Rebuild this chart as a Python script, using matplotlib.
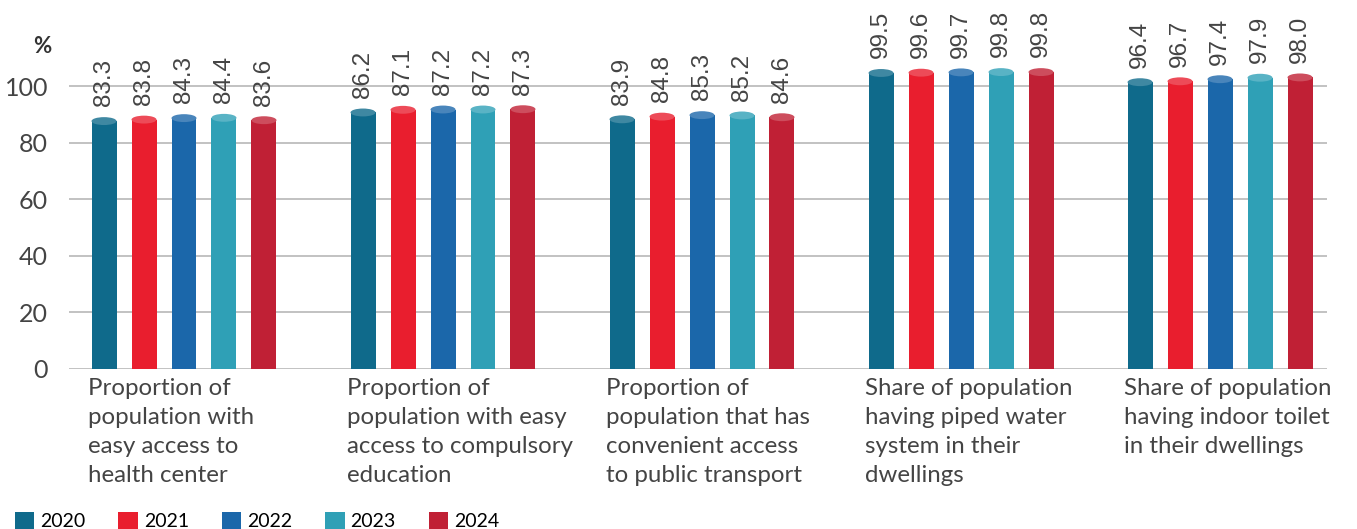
import matplotlib.pyplot as plt
from matplotlib.patches import Ellipse, Patch
from matplotlib.colors import to_rgb

years = ["2020", "2021", "2022", "2023", "2024"]
categories = [
    "Proportion of\npopulation with\neasy access to\nhealth center",
    "Proportion of\npopulation with easy\naccess to compulsory\neducation",
    "Proportion of\npopulation that has\nconvenient access\nto public transport",
    "Share of population\nhaving piped water\nsystem in their\ndwellings",
    "Share of population\nhaving indoor toilet\nin their dwellings",
]
v2020 = [83.3, 86.2, 83.9, 99.5, 96.4]
v2021 = [83.8, 87.1, 84.8, 99.6, 96.7]
v2022 = [84.3, 87.2, 85.3, 99.7, 97.4]
v2023 = [84.4, 87.2, 85.2, 99.8, 97.9]
v2024 = [83.6, 87.3, 84.6, 99.8, 98.0]
series = [v2020, v2021, v2022, v2023, v2024]
colors = ["#0f6a8b", "#e91e2e", "#1b67aa", "#2fa0b6", "#c02035"]
yticks = [0, 20, 40, 60, 80, 100]

# the source drawing stretches bars a little against its gridlines
k = 1.053

def lighter(c, f=0.2):
    r, g, b = to_rgb(c)
    return (r + (1 - r) * f, g + (1 - g) * f, b + (1 - b) * f)

fig = plt.figure(figsize=(13.57, 5.29), dpi=100)
ax = fig.add_axes([69 / 1357, (529 - 368.5) / 529, 1258 / 1357, 358.5 / 529])
ax.set_xlim(-0.444, 4.413)
ax.set_ylim(0, 127.1)

step = 0.1544
w = 0.0965
eh = 2.8
for j, vals in enumerate(series):
    for i, v in enumerate(vals):
        x = i + (j - 2) * step
        h = v * k
        ax.bar(x, h, width=w, color=colors[j], zorder=3)
        ax.add_patch(Ellipse((x, h), w, eh, facecolor=lighter(colors[j]), edgecolor="none", zorder=4))
        ax.text(x, h + eh / 2 + 3.8, f"{v:.1f}", rotation=90, ha="center", va="bottom",
                fontsize=17.5, color="#444444", family="Liberation Sans", clip_on=False)

for i, lab in enumerate(categories):
    ax.text(i - 2 * step - w / 2 - 0.015, -3.3, lab, ha="left", va="top", fontsize=17.3,
            color="#444444", family="Lato", linespacing=1.48, clip_on=False)

ax.set_yticks(yticks)
ax.set_yticklabels([str(t) for t in yticks], fontsize=18, color="#444444", family="Lato")
ax.set_xticks([])
ax.tick_params(axis="y", length=0, pad=15)
ax.grid(axis="y", color="#b8b8b8", linewidth=1.2, zorder=0)
for s in ax.spines.values():
    s.set_visible(False)

ax.text(-0.0286, 114 / 127.1, "%", transform=ax.transAxes, ha="left", va="center",
        fontsize=16, fontweight="bold", color="#333333", family="Lato")

handles = [Patch(facecolor=c, label=y) for c, y in zip(colors, years)]
fig.legend(handles=handles, loc="lower left", bbox_to_anchor=(-0.002, -0.035), ncol=5,
           frameon=False, handlelength=1.0, handleheight=1.0,
           columnspacing=1.7, handletextpad=0.3, prop={"family": "Lato", "size": 14})

fig.savefig("out.png", dpi=100)
